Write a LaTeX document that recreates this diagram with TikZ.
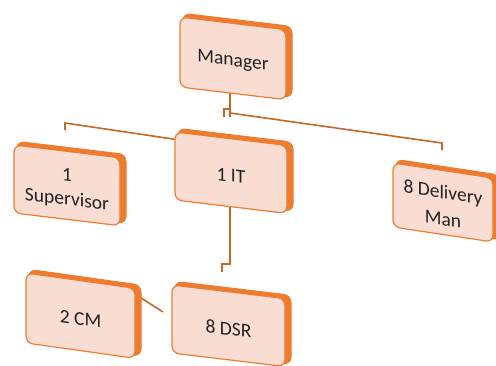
\documentclass[tikz,border=0pt]{standalone}
\usepackage{fontspec}
\setmainfont{Carlito}
\definecolor{boxfill}{HTML}{F9DCD2}
\definecolor{boxline}{HTML}{ED7D31}
\definecolor{boxside}{HTML}{EE7B2E}
\definecolor{conn}{HTML}{C4682A}
\definecolor{txt}{HTML}{222222}
\tikzset{
  frontface/.style={fill=boxfill, draw=boxline, line width=1.2pt, rounded corners=7pt},
  sideface/.style={fill=boxside, draw=boxside, line width=1pt, rounded corners=7pt},
  boxtext/.style={transform shape, font=\fontsize{19.5}{24}\selectfont, align=center, text=txt, inner sep=0pt},
  conline/.style={draw=conn, line width=1.6pt},
}
\newcommand{\orgbox}[7]{%
  \begin{scope}[shift={(#2,#3)}, yslant=-#6]
    \path[sideface] (3,-4) rectangle (#4+6,#5-3);
    \path[frontface] (0,0) rectangle (#4,#5);
    \node[boxtext] (#1) at ({#4/2},{#5/2+3}) {#7};
  \end{scope}}
\begin{document}
\begin{tikzpicture}[x=1pt,y=-1pt]
\useasboundingbox (0,0) rectangle (496,365);
% connector points
\coordinate (mgrB) at (230,93);
\coordinate (mgrJ) at (230,117);
\coordinate (stubA) at (224,117);
\coordinate (stubB) at (224,109);
\coordinate (stubC) at (230,109);
\coordinate (barR) at (230,113);
\coordinate (barRE) at (442,143);
\coordinate (dlvT) at (442,150);
\coordinate (supT) at (65,130);
\coordinate (supC) at (65,123);
\coordinate (barL) at (200,143);
\coordinate (itB) at (230,207);
\coordinate (itJ1) at (230,264);
\coordinate (itJ2) at (222,264);
\coordinate (dsrT) at (222,272);
\coordinate (cmR) at (138,296);
\coordinate (dsrL) at (163,312);
% connectors
\draw[conline] (mgrB) -- (mgrJ);
\draw[conline] (stubA) -- (stubB) -- (stubC);
\draw[conline] (barR) -- (barRE) -- (dlvT);
\draw[conline] (supT) -- (supC) -- (barL);
\draw[conline] (itB) -- (itJ1) -- (itJ2) -- (dsrT);
\draw[conline] (cmR) -- (dsrL);
% boxes
\orgbox{manager}{180}{17}{106}{70}{0.12}{Manager}
\orgbox{super}{14}{145}{106}{68}{0.12}{1\\Supervisor}
\orgbox{it}{175}{132}{112}{68}{0.12}{1 IT}
\orgbox{delivery}{393}{163}{100}{64}{0.15}{8 Delivery\\[3pt]Man}
\orgbox{cm}{26}{273}{109}{70}{0.14}{2 CM}
\orgbox{dsr}{172}{285}{113}{68}{0.12}{8 DSR}
\end{tikzpicture}
\end{document}
